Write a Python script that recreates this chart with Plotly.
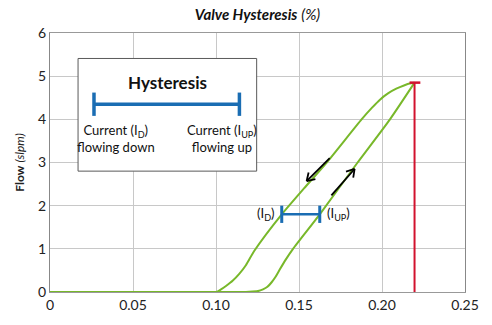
import math
import plotly.graph_objects as go

# Current flowing down (left branch)
down_x = [0, 0.100, 0.103, 0.106, 0.110, 0.114, 0.118, 0.123, 0.1396, 0.153, 0.1667, 0.1877,
          0.194, 0.1986, 0.2036, 0.2086, 0.2136, 0.2166, 0.2196]
down_y = [0, 0, 0.06, 0.14, 0.26, 0.42, 0.62, 0.95, 1.8, 2.4, 3.0, 4.0,
          4.27, 4.45, 4.60, 4.71, 4.79, 4.83, 4.85]
# Current flowing up (right branch)
up_x = [0, 0.118, 0.122, 0.126, 0.1283, 0.131, 0.1334, 0.136, 0.1384, 0.142, 0.1464,
        0.1625, 0.1853, 0.2048, 0.2196]
up_y = [0, 0, 0.01, 0.03, 0.06, 0.12, 0.22, 0.36, 0.52, 0.75, 1.0,
        1.8, 3.0, 4.0, 4.85]

x_ticks = [0, 0.05, 0.10, 0.15, 0.20, 0.25]
x_tick_text = ["0", "0.05", "0.10", "0.15", "0.20", "0.25"]
y_ticks = [0, 1, 2, 3, 4, 5, 6]

peak_x = 0.2196
peak_y = 4.85
hyst_y = 1.8
hyst_left = 0.1396
hyst_right = 0.1625

# direction arrows: (tail_x, tail_y, head_x, head_y)
arrow_down = (0.1685, 3.10, 0.1546, 2.57)
arrow_up = (0.1695, 2.24, 0.1835, 2.85)

GREEN = "#78b82a"
BLUE = "#1a6db3"
RED = "#d2122e"
FONT = "Lato"

W, H = 492, 325
ML, MR, MT, MB = 50, 27, 33, 28
XR = (0, 0.25)
YR = (0, 6)
sx = (W - ML - MR) / (XR[1] - XR[0])
sy = (H - MT - MB) / (YR[1] - YR[0])

fig = go.Figure()
fig.add_trace(go.Scatter(x=down_x, y=down_y, mode="lines", line_shape="spline",
                         line=dict(color=GREEN, width=2, smoothing=0.6), hoverinfo="skip"))
fig.add_trace(go.Scatter(x=up_x, y=up_y, mode="lines", line_shape="spline",
                         line=dict(color=GREEN, width=2, smoothing=0.6), hoverinfo="skip"))
fig.add_trace(go.Scatter(x=[peak_x, peak_x], y=[0, peak_y], mode="lines",
                         line=dict(color=RED, width=2), hoverinfo="skip"))

shapes = []
# red cap
shapes.append(dict(type="line", xref="x", yref="y", x0=peak_x - 0.003, x1=peak_x + 0.0035,
                   y0=peak_y, y1=peak_y, line=dict(color=RED, width=2.5)))
# hysteresis bar between curves
shapes.append(dict(type="line", xref="x", yref="y", x0=hyst_left, x1=hyst_right,
                   y0=hyst_y, y1=hyst_y, line=dict(color=BLUE, width=2.5)))
for xx in (hyst_left, hyst_right):
    shapes.append(dict(type="line", xref="x", yref="y", x0=xx, x1=xx,
                       y0=hyst_y - 0.2, y1=hyst_y + 0.2, line=dict(color=BLUE, width=3)))
# legend box
shapes.append(dict(type="rect", xref="x", yref="y", x0=0.0169, x1=0.1245, y0=2.80, y1=5.41,
                   line=dict(color="#5a5a5a", width=1), fillcolor="white", layer="above"))
# legend bar
shapes.append(dict(type="line", xref="x", yref="y", x0=0.0262, x1=0.1144, y0=4.35, y1=4.35,
                   line=dict(color=BLUE, width=3.5), layer="above"))
for xx in (0.0265, 0.1141):
    shapes.append(dict(type="line", xref="x", yref="y", x0=xx, x1=xx, y0=4.08, y1=4.62,
                       line=dict(color=BLUE, width=3.5), layer="above"))


def arrow_shapes(tx, ty, hx, hy, arm=9, ang=32):
    # work in pixel space so the head angle looks right
    dx = (hx - tx) * sx
    dy = (hy - ty) * sy
    L = math.hypot(dx, dy)
    ux, uy = dx / L, dy / L
    out = [dict(type="line", xref="x", yref="y", x0=tx, y0=ty, x1=hx, y1=hy,
                line=dict(color="black", width=1.8))]
    for s in (1, -1):
        a = math.radians(ang) * s
        bx = -(ux * math.cos(a) - uy * math.sin(a)) * arm
        by = -(ux * math.sin(a) + uy * math.cos(a)) * arm
        out.append(dict(type="line", xref="x", yref="y", x0=hx, y0=hy,
                        x1=hx + bx / sx, y1=hy + by / sy,
                        line=dict(color="black", width=1.8)))
    return out


shapes += arrow_shapes(*arrow_down)
shapes += arrow_shapes(*arrow_up)

annotations = [
    dict(x=0.0705, y=4.86, xref="x", yref="y", text="<b>Hysteresis</b>", showarrow=False,
         font=dict(family=FONT, size=17, color="#111")),
    dict(x=0.0395, y=3.55, xref="x", yref="y", text="Current (I<sub>D</sub>)<br>flowing down",
         showarrow=False, font=dict(family=FONT, size=13, color="#111"), align="center"),
    dict(x=0.1035, y=3.55, xref="x", yref="y", text="Current (I<sub>UP</sub>)<br>flowing up",
         showarrow=False, font=dict(family=FONT, size=13, color="#111"), align="center"),
    dict(x=hyst_left - 0.003, y=hyst_y, xref="x", yref="y", text="(I<sub>D</sub>)",
         showarrow=False, xanchor="right", font=dict(family=FONT, size=13, color="#111")),
    dict(x=hyst_right + 0.003, y=hyst_y, xref="x", yref="y", text="(I<sub>UP</sub>)",
         showarrow=False, xanchor="left", font=dict(family=FONT, size=13, color="#111")),
]

fig.update_layout(
    width=W, height=H,
    margin=dict(l=ML, r=MR, t=MT, b=MB),
    paper_bgcolor="white", plot_bgcolor="white",
    showlegend=False,
    font=dict(family=FONT, size=14, color="#222"),
    title=dict(text="<b><i>Valve Hysteresis</i></b> <i>(%)</i>", x=0.5, xanchor="center",
               xref="paper", y=0.955, yanchor="middle",
               font=dict(family=FONT, size=15, color="#111")),
    shapes=shapes,
    annotations=annotations,
    xaxis=dict(range=list(XR), tickvals=x_ticks, ticktext=x_tick_text,
               showgrid=True, gridcolor="#c8c8c8", gridwidth=1,
               showline=True, linecolor="#999", mirror=True, zeroline=False,
               ticks="", tickfont=dict(size=14, family=FONT, color="#222")),
    yaxis=dict(range=list(YR), tickvals=y_ticks,
               showgrid=True, gridcolor="#c8c8c8", gridwidth=1,
               showline=True, linecolor="#888", mirror=True, zeroline=False,
               ticks="", tickfont=dict(size=14, family=FONT, color="#222"),
               title=dict(text="<b>Flow</b> <i>(slpm)</i>", standoff=10,
                          font=dict(size=12, family=FONT, color="#222"))),
)

fig.write_html("out.html")
